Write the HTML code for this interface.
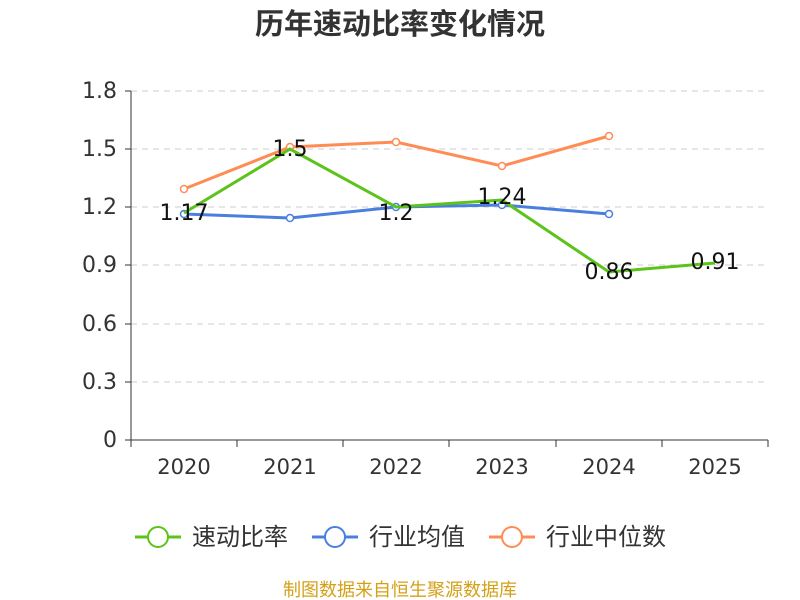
<!DOCTYPE html>
<html><head><meta charset="utf-8"><style>
body{margin:0;background:#fff;}
svg{display:block;font-family:"DejaVu Sans","Noto Sans CJK SC",sans-serif;}
</style></head><body>
<svg width="800" height="600" viewBox="0 0 800 600">
<text x="400" y="34" text-anchor="middle" font-size="29" font-weight="bold" fill="#333" font-family="Noto Sans CJK SC,sans-serif">历年速动比率变化情况</text>
<g stroke="#ccc" stroke-dasharray="6,5" stroke-width="1">
<line x1="131" y1="91" x2="768" y2="91"/>
<line x1="131" y1="149" x2="768" y2="149"/>
<line x1="131" y1="207" x2="768" y2="207"/>
<line x1="131" y1="265" x2="768" y2="265"/>
<line x1="131" y1="324" x2="768" y2="324"/>
<line x1="131" y1="382" x2="768" y2="382"/>
</g>
<g stroke="#333" stroke-width="1">
<line x1="131" y1="91" x2="131" y2="440"/>
<line x1="131" y1="440" x2="768" y2="440"/>
<line x1="125" y1="91" x2="131" y2="91"/><line x1="125" y1="149" x2="131" y2="149"/><line x1="125" y1="207" x2="131" y2="207"/><line x1="125" y1="265" x2="131" y2="265"/><line x1="125" y1="324" x2="131" y2="324"/><line x1="125" y1="382" x2="131" y2="382"/><line x1="125" y1="440" x2="131" y2="440"/>
<line x1="131" y1="440" x2="131" y2="447"/><line x1="237" y1="440" x2="237" y2="447"/><line x1="343" y1="440" x2="343" y2="447"/><line x1="449" y1="440" x2="449" y2="447"/><line x1="556" y1="440" x2="556" y2="447"/><line x1="662" y1="440" x2="662" y2="447"/><line x1="768" y1="440" x2="768" y2="447"/>
</g>
<g font-size="22" fill="#333" text-anchor="end">
<text x="117" y="98">1.8</text><text x="117" y="156">1.5</text><text x="117" y="214">1.2</text><text x="117" y="272">0.9</text><text x="117" y="331">0.6</text><text x="117" y="389">0.3</text><text x="117" y="447">0</text>
</g>
<g font-size="21" fill="#333" text-anchor="middle">
<text x="184" y="474">2020</text><text x="290" y="474">2021</text><text x="396" y="474">2022</text><text x="502" y="474">2023</text><text x="609" y="474">2024</text><text x="715" y="474">2025</text>
</g>
<polyline fill="none" stroke="#ff8c55" stroke-width="3" points="184,189 290,147 396,142 502,166 609,136"/>
<g fill="#fff" stroke="#ff8c55" stroke-width="1.5"><circle cx="184" cy="189" r="3.5"/><circle cx="290" cy="147" r="3.5"/><circle cx="396" cy="142" r="3.5"/><circle cx="502" cy="166" r="3.5"/><circle cx="609" cy="136" r="3.5"/></g>
<polyline fill="none" stroke="#4a7fe0" stroke-width="3" points="184,214 290,218 396,207 502,205 609,214"/>
<g fill="#fff" stroke="#4a7fe0" stroke-width="1.5"><circle cx="184" cy="214" r="3.5"/><circle cx="290" cy="218" r="3.5"/><circle cx="396" cy="207" r="3.5"/><circle cx="502" cy="205" r="3.5"/><circle cx="609" cy="214" r="3.5"/></g>
<polyline fill="none" stroke="#5cc31a" stroke-width="3" points="184,213 290,149 396,207 502,200 609,272 715,263"/>
<g font-size="22" fill="#111" text-anchor="middle">
<text x="184" y="220">1.17</text><text x="290" y="156">1.5</text><text x="396" y="220">1.2</text><text x="502" y="204">1.24</text><text x="609" y="279">0.86</text><text x="715" y="269">0.91</text>
</g>
<g font-size="24" fill="#333" font-family="Noto Sans CJK SC,sans-serif">
<line x1="135" y1="537" x2="181" y2="537" stroke="#5cc31a" stroke-width="3"/><circle cx="158" cy="537" r="10" fill="#fff" stroke="#5cc31a" stroke-width="2"/>
<text x="192" y="545">速动比率</text>
<line x1="312" y1="537" x2="358" y2="537" stroke="#4a7fe0" stroke-width="3"/><circle cx="335" cy="537" r="10" fill="#fff" stroke="#4a7fe0" stroke-width="2"/>
<text x="369" y="545">行业均值</text>
<line x1="489" y1="537" x2="535" y2="537" stroke="#ff8c55" stroke-width="3"/><circle cx="512" cy="537" r="10" fill="#fff" stroke="#ff8c55" stroke-width="2"/>
<text x="546" y="545">行业中位数</text>
</g>
<text x="400" y="596" text-anchor="middle" font-size="18" fill="#d4a017" font-family="Noto Sans CJK SC,sans-serif">制图数据来自恒生聚源数据库</text>
</svg>
</body></html>
